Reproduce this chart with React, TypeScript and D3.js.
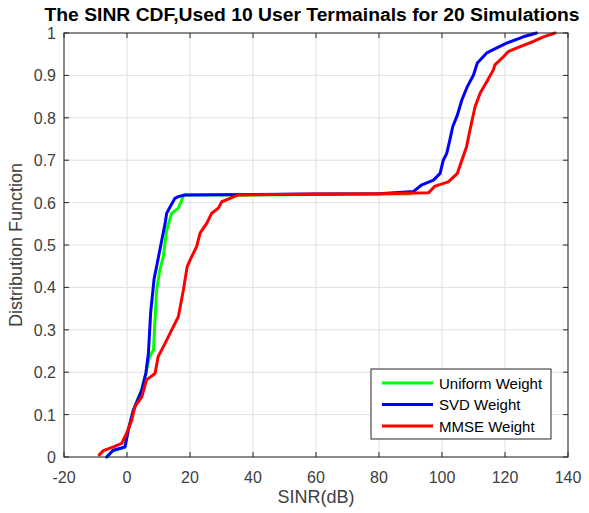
import React from "react";
import * as d3 from "d3";

const title = "The SINR CDF,Used 10 User Termainals for 20 Simulations";
const xLabel = "SINR(dB)";
const yLabel = "Distribution Function";
const xTicks = [-20, 0, 20, 40, 60, 80, 100, 120, 140];
const yTicks = [0, 0.1, 0.2, 0.3, 0.4, 0.5, 0.6, 0.7, 0.8, 0.9, 1];
const legendNames = ["Uniform Weight", "SVD Weight", "MMSE Weight"];
const seriesColors = ["#00ff00", "#0000ff", "#ff0000"];

const uniformX = [-6.6, -4.6, -0.8, 0.4, 2, 4.6, 6.0, 7.0, 7.8, 8.4, 9.4, 10.4, 11.5, 12.6, 14.2, 16.3, 17.4, 17.9, 36, 60, 80, 90];
const uniformY = [0.0, 0.014, 0.022, 0.062, 0.11, 0.158, 0.198, 0.232, 0.245, 0.252, 0.394, 0.44, 0.472, 0.535, 0.575, 0.587, 0.606, 0.618, 0.618, 0.619, 0.62, 0.62];

const svdX = [-6.4, -4.4, -0.6, 0.4, 2, 4.7, 6, 6.8, 7.5, 8.6, 9.6, 11, 12.1, 12.6, 13.7, 15.2, 16.3, 18.4, 40, 60, 80, 90.9, 93.6, 97.3, 99.4, 100.4, 101.5, 102.5, 103.4, 104.9, 106.3, 108, 110, 111.2, 114.2, 117.4, 120.5, 125.8, 130];
const svdY = [0.0, 0.016, 0.024, 0.064, 0.11, 0.158, 0.198, 0.245, 0.34, 0.42, 0.457, 0.51, 0.551, 0.575, 0.59, 0.61, 0.614, 0.618, 0.619, 0.62, 0.621, 0.626, 0.642, 0.653, 0.669, 0.7, 0.716, 0.748, 0.779, 0.807, 0.842, 0.873, 0.901, 0.929, 0.953, 0.965, 0.976, 0.991, 1.0];

const mmseX = [-8.8, -7.5, -4.3, -1.7, -0.1, 1.5, 2.5, 4.7, 6.2, 8.9, 9.9, 12.1, 14.2, 16.3, 17.9, 19.1, 20.5, 22.1, 23.2, 25.3, 26.9, 29, 30.1, 32.7, 35.3, 60, 80, 95.7, 97.8, 102, 104.9, 106.3, 107.8, 109.1, 110.5, 112.1, 114.2, 116.3, 116.8, 119.5, 121, 124.8, 129, 132.2, 135.9];
const mmseY = [0.005, 0.015, 0.024, 0.032, 0.056, 0.087, 0.119, 0.142, 0.182, 0.197, 0.237, 0.268, 0.3, 0.331, 0.394, 0.449, 0.472, 0.496, 0.528, 0.551, 0.575, 0.587, 0.602, 0.61, 0.618, 0.62, 0.621, 0.623, 0.639, 0.649, 0.669, 0.7, 0.732, 0.779, 0.826, 0.858, 0.885, 0.913, 0.925, 0.944, 0.956, 0.968, 0.98, 0.991, 1.0];

const W = 589;
const H = 513;
const M = { left: 64, right: 568, top: 33, bottom: 457 };
const FONT = "'Liberation Sans', Arial, Helvetica, sans-serif";

export default function App() {
  const x = d3.scaleLinear().domain([-20, 140]).range([M.left, M.right]);
  const y = d3.scaleLinear().domain([0, 1]).range([M.bottom, M.top]);
  const line = d3
    .line<[number, number]>()
    .x((d) => x(d[0]))
    .y((d) => y(d[1]));
  const series = [
    uniformX.map((v, i) => [v, uniformY[i]] as [number, number]),
    svdX.map((v, i) => [v, svdY[i]] as [number, number]),
    mmseX.map((v, i) => [v, mmseY[i]] as [number, number]),
  ];
  const axisColor = "#262626";
  const tickColor = "#404040";
  const tl = 5;
  const legX = 371, legY = 369, legW = 180, legH = 70;

  return (
    <svg
      width={W}
      height={H}
      style={{ position: "absolute", left: 0, top: 0, background: "#fff" }}
      fontFamily={FONT}
    >
      <rect x={0} y={0} width={W} height={H} fill="#fff" />
      {xTicks.map((t) => (
        <line key={"gx" + t} x1={x(t)} x2={x(t)} y1={M.top} y2={M.bottom} stroke="#dfdfdf" strokeWidth={1} />
      ))}
      {yTicks.map((t) => (
        <line key={"gy" + t} x1={M.left} x2={M.right} y1={y(t)} y2={y(t)} stroke="#dfdfdf" strokeWidth={1} />
      ))}
      {series.map((s, i) => (
        <path
          key={"s" + i}
          d={line(s) || ""}
          fill="none"
          stroke={seriesColors[i]}
          strokeWidth={3}
          strokeLinejoin="round"
          strokeLinecap="round"
        />
      ))}
      <rect x={M.left} y={M.top} width={M.right - M.left} height={M.bottom - M.top} fill="none" stroke={axisColor} strokeWidth={1} />
      {xTicks.map((t) => (
        <g key={"tx" + t}>
          <line x1={x(t)} x2={x(t)} y1={M.bottom} y2={M.bottom - tl} stroke={axisColor} />
          <line x1={x(t)} x2={x(t)} y1={M.top} y2={M.top + tl} stroke={axisColor} />
          <text x={x(t)} y={M.bottom + 26} textAnchor="middle" fontSize={16} fill={tickColor}>
            {t}
          </text>
        </g>
      ))}
      {yTicks.map((t) => (
        <g key={"ty" + t}>
          <line x1={M.left} x2={M.left + tl} y1={y(t)} y2={y(t)} stroke={axisColor} />
          <line x1={M.right} x2={M.right - tl} y1={y(t)} y2={y(t)} stroke={axisColor} />
          <text x={M.left - 8} y={y(t) + 6} textAnchor="end" fontSize={16} fill={tickColor}>
            {String(t)}
          </text>
        </g>
      ))}
      <text
        x={312}
        y={21}
        textAnchor="middle"
        fontSize={18}
        fontWeight="bold"
        fill="#000"
        textLength={535}
        lengthAdjust="spacingAndGlyphs"
      >
        {title}
      </text>
      <text x={(M.left + M.right) / 2} y={503} textAnchor="middle" fontSize={18} fill={tickColor}>
        {xLabel}
      </text>
      <text
        transform={`translate(22, ${(M.top + M.bottom) / 2}) rotate(-90)`}
        textAnchor="middle"
        fontSize={18}
        fill={tickColor}
      >
        {yLabel}
      </text>
      <rect x={legX} y={legY} width={legW} height={legH} fill="#fff" stroke={axisColor} strokeWidth={1} />
      {legendNames.map((n, i) => (
        <g key={"l" + i}>
          <line x1={legX + 11} x2={legX + 62} y1={legY + 14 + i * 21.5} y2={legY + 14 + i * 21.5} stroke={seriesColors[i]} strokeWidth={3} />
          <text x={legX + 68} y={legY + 19.5 + i * 21.5} fontSize={15} fill="#000">
            {n}
          </text>
        </g>
      ))}
    </svg>
  );
}
